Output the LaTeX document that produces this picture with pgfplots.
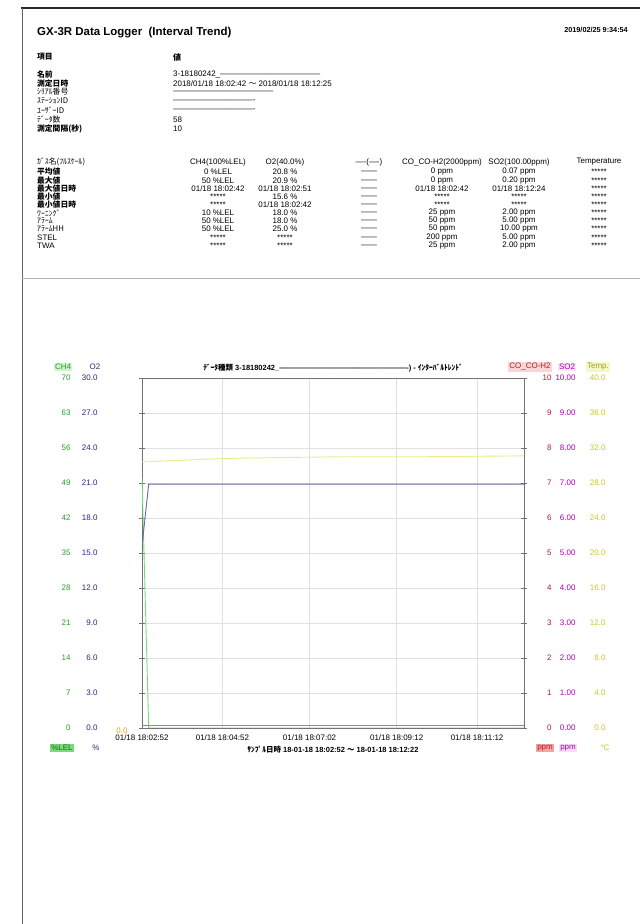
\documentclass[border=0pt]{standalone}
\usepackage{fontspec}
\setmainfont{Liberation Sans}
\newfontfamily\jp{Noto Sans CJK JP}
\usepackage{pgfplots}
\usepackage{pgfplotstable}
\pgfplotsset{compat=1.18}

\definecolor{ch4line}{RGB}{120,220,120}
\definecolor{ch4txt}{RGB}{40,160,40}
\definecolor{o2line}{RGB}{105,105,165}
\definecolor{o2txt}{RGB}{40,40,130}
\definecolor{coline}{RGB}{230,90,90}
\definecolor{cotxt}{RGB}{180,30,30}
\definecolor{so2line}{RGB}{210,90,210}
\definecolor{so2txt}{RGB}{170,0,170}
\definecolor{templine}{RGB}{235,235,140}
\definecolor{temptxt}{RGB}{200,200,40}
\definecolor{othtxt}{RGB}{220,160,60}

% t = seconds after 18:02:52
\pgfplotstableread{
t v
0 50
10 0
570 0
}\chfour
\pgfplotstableread{
t v
0 15.6
10 20.9
570 20.9
}\otwo
\pgfplotstableread{
t v
0 30.4
60 30.6
120 30.8
200 30.9
300 31.0
420 31.0
570 31.1
}\temp
\pgfplotstableread{
t v
0 0
570 0
}\coco
\pgfplotstableread{
t v
0 0.07
570 0.07
}\sotwo

\pgfplotsset{
  base/.style={scale only axis, width=382bp, height=350bp,
    at={(142bp,196bp)}, anchor=south west, xmin=0, xmax=570,
    /pgf/number format/assume math mode=true,
    ticklabel style={font=\fontsize{8}{9}\selectfont}},
  over/.style={base, axis line style={draw=none}, tick style={draw=none},
    xtick=\empty, grid=none},
}

\newcommand\tx[3]{\node[anchor=west,inner sep=0pt] at (#1,{924-#2}) {#3};}
\newcommand\tc[3]{\node[anchor=center,inner sep=0pt] at (#1,{924-#2}) {#3};}
\newcommand\row[8]{\tx{37}{#1}{#2}\tc{218}{#1}{#3}\tc{285}{#1}{#4}\tc{369}{#1}{#5}\tc{442}{#1}{#6}\tc{519}{#1}{#7}\tc{599}{#1}{#8}}
\newcommand\J{\jp\fontsize{7.8}{8.5}\selectfont}
\newcommand\JB{\jp\bfseries\fontsize{7.8}{8.5}\selectfont}

\begin{document}
\begin{tikzpicture}[x=1bp,y=1bp,font=\fontsize{8}{9.5}\selectfont]
\useasboundingbox (0,0) rectangle (640,924);
\fill[white] (0,0) rectangle (640,924);
\draw[line width=1.6pt, black!85] (21,916) -- (640,916);
\draw[line width=1pt, black!60] (22,916) -- (22,0);
\draw[line width=0.6pt, black!30] (22,646) -- (640,646);

% report header
\tx{37}{33}{\fontsize{11.5}{13}\selectfont\bfseries GX-3R Data Logger\ \ (Interval Trend)}
\node[anchor=east,inner sep=0pt] at (628,{924-30}) {\fontsize{7.3}{9}\selectfont\bfseries 2019/02/25 9:34:54};
\tx{37}{57}{\JB 項目}
\tx{173}{57}{\jp\bfseries 値}
\tx{37}{75}{\JB 名前}
\tx{173}{75}{3-18180242\_--------------------------------------}
\tx{37}{84}{\JB 測定日時}
\tx{173}{84}{2018/01/18 18:02:42 {\jp ～} 2018/01/18 18:12:25}
\tx{37}{92}{\J ｼﾘｱﾙ番号}
\tx{173}{92}{--------------------------------------}
\tx{37}{101}{\J ｽﾃｰｼｮﾝID}
\tx{173}{101}{-------------------------------}
\tx{37}{110}{\J ﾕｰｻﾞｰID}
\tx{173}{110}{-------------------------------}
\tx{37}{120}{\J ﾃﾞｰﾀ数}
\tx{173}{120}{58}
\tx{37}{129}{\JB 測定間隔(秒)}
\tx{173}{129}{10}

% summary table
\row{162}{\J ｶﾞｽ名(ﾌﾙｽｹｰﾙ)}{CH4(100\%LEL)}{O2(40.0\%)}{----(----)}{CO\_CO-H2(2000ppm)}{SO2(100.00ppm)}{Temperature}
\row{172}{\JB 平均値}{0 \%LEL}{20.8 \%}{------}{0 ppm}{0.07 ppm}{*****}
\row{181}{\JB 最大値}{50 \%LEL}{20.9 \%}{------}{0 ppm}{0.20 ppm}{*****}
\row{189}{\JB 最大値日時}{01/18 18:02:42}{01/18 18:02:51}{------}{01/18 18:02:42}{01/18 18:12:24}{*****}
\row{197}{\JB 最小値}{*****}{15.6 \%}{------}{*****}{*****}{*****}
\row{205}{\JB 最小値日時}{*****}{01/18 18:02:42}{------}{*****}{*****}{*****}
\row{213}{\J ﾜｰﾆﾝｸﾞ}{10 \%LEL}{18.0 \%}{------}{25 ppm}{2.00 ppm}{*****}
\row{221}{\J ｱﾗｰﾑ}{50 \%LEL}{18.0 \%}{------}{50 ppm}{5.00 ppm}{*****}
\row{229}{\J ｱﾗｰﾑHH}{50 \%LEL}{25.0 \%}{------}{50 ppm}{10.00 ppm}{*****}
\row{238}{STEL}{*****}{*****}{------}{200 ppm}{5.00 ppm}{*****}
\row{246}{TWA}{*****}{*****}{------}{25 ppm}{2.00 ppm}{*****}

% main axis: CH4 scale, box, grid
\begin{axis}[base, ymin=0, ymax=70, ytick={0,7,...,70},
  grid=major, major grid style={black!12, line width=0.5pt},
  axis line style={black!55, line width=0.8pt},
  tick align=center, major tick length=6bp, tick style={black!55},
  xtick style={draw=none},
  xtick={0,120,250,380,500},
  xticklabels={01/18 18:02:52,01/18 18:04:52,01/18 18:07:02,01/18 18:09:12,01/18 18:11:12},
  yticklabel style={text=ch4txt, anchor=east, xshift=-65bp},
  title={\bfseries{\jp ﾃﾞｰﾀ種類} 3-18180242\_----------------------------------------------------) - {\jp ｲﾝﾀｰﾊﾞﾙﾄﾚﾝﾄﾞ}},
  title style={font=\fontsize{7.5}{9}\selectfont, yshift=-4bp},
  xlabel={\bfseries{\jp ｻﾝﾌﾟﾙ日時} 18-01-18 18:02:52 {\jp ～} 18-01-18 18:12:22},
  xlabel style={font=\fontsize{7.5}{9}\selectfont, yshift=1bp},
]
\addplot[ch4line, line width=0.9pt] table[x=t, y=v] {\chfour};
\end{axis}

% O2 scale
\begin{axis}[over, ymin=0, ymax=30, ytick={0,3,...,30},
  yticklabel style={text=o2txt, anchor=east, xshift=-41bp,
    /pgf/number format/.cd, fixed, fixed zerofill, precision=1}]
\addplot[o2line, line width=0.9pt] table[x=t, y=v] {\otwo};
\end{axis}

% Temperature scale
\begin{axis}[over, ymin=0, ymax=40, ytick={0,4,...,40}, yticklabel pos=right,
  yticklabel style={text=temptxt, anchor=east, xshift=85bp,
    /pgf/number format/.cd, fixed, fixed zerofill, precision=1}]
\addplot[templine, line width=0.9pt] table[x=t, y=v] {\temp};
\end{axis}

% SO2 scale
\begin{axis}[over, ymin=0, ymax=10, ytick={0,1,...,10}, yticklabel pos=right,
  yticklabel style={text=so2txt, anchor=east, xshift=55bp,
    /pgf/number format/.cd, fixed, fixed zerofill, precision=2}]
\addplot[so2line, line width=0.8pt] table[x=t, y=v] {\sotwo};
\end{axis}

% CO_CO-H2 scale
\begin{axis}[over, ymin=0, ymax=10, ytick={0,1,...,10}, yticklabel pos=right,
  yticklabel style={text=cotxt, anchor=east, xshift=31bp}]
\addplot[coline, line width=0.8pt] table[x=t, y=v] {\coco};
\end{axis}

% channel headers and units
\begin{scope}[font=\fontsize{8}{9}\selectfont]
\node[text=ch4txt, fill=ch4line!35, inner sep=1pt] at (63,{924-367}) {CH4};
\node[text=o2txt, inner sep=1pt] at (95,{924-367}) {O2};
\node[text=cotxt, fill=coline!25, inner sep=1pt] at (530,{924-367}) {CO\_CO-H2};
\node[text=so2txt, fill=so2line!15, inner sep=1pt] at (567,{924-367}) {SO2};
\node[text=temptxt!80!black, fill=templine!45, inner sep=1pt] at (598,{924-367}) {Temp.};
\node[text=othtxt, inner sep=1pt] at (122,{924-731}) {0.0};
\node[text=ch4txt!70!black, fill=ch4line, inner sep=1pt] at (62,{924-748}) {\%LEL};
\node[text=o2txt, inner sep=1pt] at (96,{924-748}) {\%};
\node[text=cotxt, fill=coline!55, inner sep=1pt] at (545,{924-748}) {ppm};
\node[text=so2txt, fill=so2line!20, inner sep=1pt] at (568,{924-748}) {ppm};
\node[text=temptxt, inner sep=1pt] at (605,{924-748}) {°C};
\end{scope}
\end{tikzpicture}
\end{document}
